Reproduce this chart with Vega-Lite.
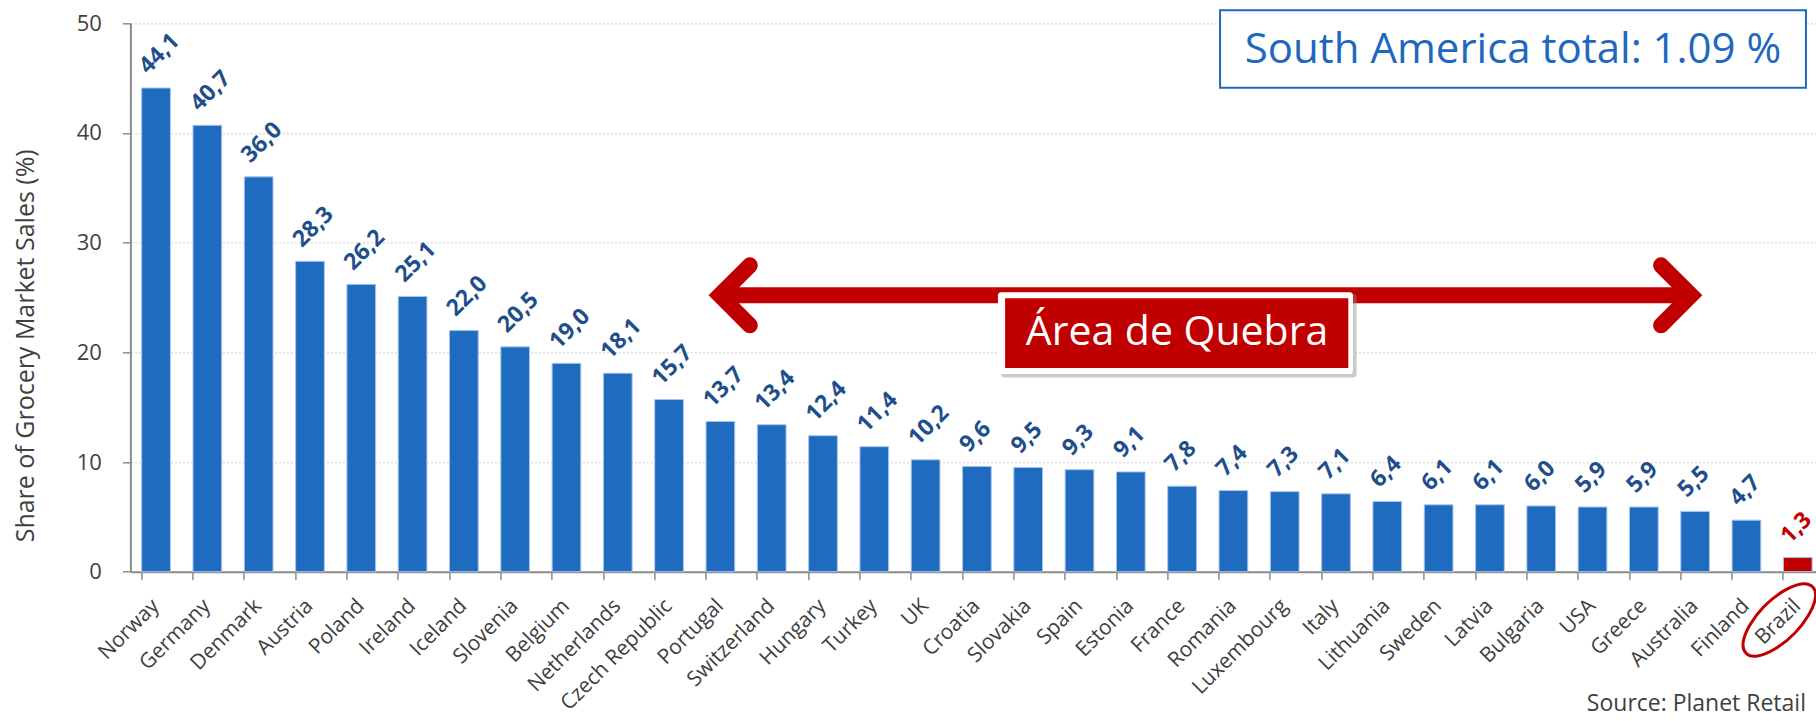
{
  "$schema": "https://vega.github.io/schema/vega-lite/v6.json",
  "width": 1686,
  "height": 548.4,
  "autosize": {"type": "none"},
  "padding": {"left": 130.4, "top": 23.3, "right": 0, "bottom": 149.3},
  "background": "white",
  "config": {
    "font": "Open Sans",
    "view": {"stroke": null},
    "locale": {"number": {"decimal": ",", "thousands": ".", "grouping": [3], "currency": ["", ""]}},
    "axisX": {
      "bandPosition": 0,
      "labelAngle": -45,
      "labelAlign": "right",
      "labelBaseline": "top",
      "labelOffset": -8,
      "labelPadding": 15,
      "labelFontSize": 21,
      "labelColor": "#404040",
      "domainColor": "#8c8c8c",
      "domainWidth": 2,
      "tickColor": "#8c8c8c",
      "tickWidth": 1.5,
      "tickSize": 8,
      "grid": false
    },
    "axisY": {
      "titleFontSize": 25,
      "titleFontWeight": "normal",
      "titleColor": "#404040",
      "titleX": -105,
      "titleY": 322,
      "titleBaseline": "middle",
      "titleAngle": 270,
      "labelFontSize": 22,
      "labelColor": "#404040",
      "labelPadding": 21,
      "domainColor": "#8c8c8c",
      "domainWidth": 2,
      "tickColor": "#8c8c8c",
      "tickWidth": 1.5,
      "tickSize": 8,
      "grid": true,
      "gridColor": "#d0d0d0",
      "gridDash": [2, 2],
      "gridWidth": 1
    }
  },
  "datasets": {
    "bars": [
      {"country": "Norway", "v": 44.1},
      {"country": "Germany", "v": 40.7},
      {"country": "Denmark", "v": 36.0},
      {"country": "Austria", "v": 28.3},
      {"country": "Poland", "v": 26.2},
      {"country": "Ireland", "v": 25.1},
      {"country": "Iceland", "v": 22.0},
      {"country": "Slovenia", "v": 20.5},
      {"country": "Belgium", "v": 19.0},
      {"country": "Netherlands", "v": 18.1},
      {"country": "Czech Republic", "v": 15.7},
      {"country": "Portugal", "v": 13.7},
      {"country": "Switzerland", "v": 13.4},
      {"country": "Hungary", "v": 12.4},
      {"country": "Turkey", "v": 11.4},
      {"country": "UK", "v": 10.2},
      {"country": "Croatia", "v": 9.6},
      {"country": "Slovakia", "v": 9.5},
      {"country": "Spain", "v": 9.3},
      {"country": "Estonia", "v": 9.1},
      {"country": "France", "v": 7.8},
      {"country": "Romania", "v": 7.4},
      {"country": "Luxembourg", "v": 7.3},
      {"country": "Italy", "v": 7.1},
      {"country": "Lithuania", "v": 6.4},
      {"country": "Sweden", "v": 6.1},
      {"country": "Latvia", "v": 6.1},
      {"country": "Bulgaria", "v": 6.0},
      {"country": "USA", "v": 5.9},
      {"country": "Greece", "v": 5.9},
      {"country": "Australia", "v": 5.5},
      {"country": "Finland", "v": 4.7},
      {"country": "Brazil", "v": 1.3}
    ]
  },
  "layer": [
    {
      "data": {"name": "bars"},
      "mark": {"type": "bar", "stroke": "#a9c6ea", "strokeWidth": 1},
      "encoding": {
        "x": {
          "field": "country", "type": "nominal", "sort": null, "title": null,
          "scale": {"range": [0, 1693], "paddingInner": 0.44, "paddingOuter": 0.22}
        },
        "y": {
          "field": "v", "type": "quantitative", "title": "Share of Grocery Market Sales (%)",
          "scale": {"domain": [0, 50], "nice": false},
          "axis": {"values": [0, 10, 20, 30, 40, 50]}
        },
        "color": {
          "condition": {"test": "datum.country === 'Brazil'", "value": "#C00000"},
          "value": "#1F6BBF"
        }
      }
    },
    {
      "data": {"name": "bars"},
      "mark": {"type": "text", "angle": 315, "align": "left", "baseline": "middle", "fontWeight": "bold", "fontSize": 23, "xOffset": -13, "yOffset": -18},
      "encoding": {
        "x": {
          "field": "country", "type": "nominal", "sort": null, "axis": null,
          "scale": {"range": [0, 1693], "paddingInner": 0.44, "paddingOuter": 0.22}
        },
        "y": {"field": "v", "type": "quantitative", "title": "Share of Grocery Market Sales (%)"},
        "text": {"field": "v", "type": "quantitative", "format": ".1f"},
        "color": {
          "condition": {"test": "datum.country === 'Brazil'", "value": "#C00000"},
          "value": "#1F4E8C"
        }
      }
    },
    {
      "data": {"values": [{"x": 21.24, "x2": 32.66, "y": 51.2, "y2": 44.12}]},
      "mark": {"type": "rect", "fill": "white", "stroke": "#2068BE", "strokeWidth": 2},
      "encoding": {
        "x": {"field": "x", "type": "quantitative", "scale": {"domain": [0, 33], "range": [0, 1693], "nice": false, "zero": false}, "axis": null},
        "x2": {"field": "x2"},
        "y": {"field": "y", "type": "quantitative", "title": "Share of Grocery Market Sales (%)"},
        "y2": {"field": "y2"}
      }
    },
    {
      "data": {"values": [{"x": 26.95, "y": 47.6, "t": "South America total: 1.09 %"}]},
      "mark": {"type": "text", "align": "center", "baseline": "middle", "fontSize": 42, "color": "#2068BE"},
      "encoding": {
        "x": {"field": "x", "type": "quantitative", "scale": {"domain": [0, 33], "range": [0, 1693], "nice": false, "zero": false}, "axis": null},
        "y": {"field": "y", "type": "quantitative", "title": "Share of Grocery Market Sales (%)"},
        "text": {"field": "t"}
      }
    },
    {
      "data": {"values": [{"x": 11.5, "x2": 30.41, "y": 25.2}]},
      "mark": {"type": "rule", "stroke": "#C00000", "strokeWidth": 16, "strokeCap": "butt"},
      "encoding": {
        "x": {"field": "x", "type": "quantitative", "scale": {"domain": [0, 33], "range": [0, 1693], "nice": false, "zero": false}, "axis": null},
        "x2": {"field": "x2"},
        "y": {"field": "y", "type": "quantitative", "title": "Share of Grocery Market Sales (%)"}
      }
    },
    {
      "data": {"values": [{"x": 11.49, "y": 25.2, "side": "L"}, {"x": 30.42, "y": 25.2, "side": "R"}]},
      "mark": {"type": "point", "filled": false, "opacity": 1, "stroke": "#C00000", "strokeWidth": 16, "strokeCap": "round", "strokeJoin": "miter", "size": 3600},
      "encoding": {
        "x": {"field": "x", "type": "quantitative", "scale": {"domain": [0, 33], "range": [0, 1693], "nice": false, "zero": false}, "axis": null},
        "y": {"field": "y", "type": "quantitative", "title": "Share of Grocery Market Sales (%)"},
        "shape": {"field": "side", "type": "nominal", "scale": {"domain": ["L", "R"], "range": ["M 1 -1 L 0 0 L 1 1", "M -1 -1 L 0 0 L -1 1"]}, "legend": null}
      }
    },
    {
      "data": {"values": [{"x": 16.97, "x2": 23.9, "y": 25.3, "y2": 17.7}]},
      "mark": {"type": "rect", "fill": "#8a8a8a", "opacity": 0.45, "cornerRadius": 3},
      "encoding": {
        "x": {"field": "x", "type": "quantitative", "scale": {"domain": [0, 33], "range": [0, 1693], "nice": false, "zero": false}, "axis": null},
        "x2": {"field": "x2"},
        "y": {"field": "y", "type": "quantitative", "title": "Share of Grocery Market Sales (%)"},
        "y2": {"field": "y2"}
      }
    },
    {
      "data": {"values": [{"x": 16.91, "x2": 23.83, "y": 25.49, "y2": 18.02}]},
      "mark": {"type": "rect", "fill": "white", "cornerRadius": 3},
      "encoding": {
        "x": {"field": "x", "type": "quantitative", "scale": {"domain": [0, 33], "range": [0, 1693], "nice": false, "zero": false}, "axis": null},
        "x2": {"field": "x2"},
        "y": {"field": "y", "type": "quantitative", "title": "Share of Grocery Market Sales (%)"},
        "y2": {"field": "y2"}
      }
    },
    {
      "data": {"values": [{"x": 17.05, "x2": 23.74, "y": 24.94, "y2": 18.57}]},
      "mark": {"type": "rect", "fill": "#C00000"},
      "encoding": {
        "x": {"field": "x", "type": "quantitative", "scale": {"domain": [0, 33], "range": [0, 1693], "nice": false, "zero": false}, "axis": null},
        "x2": {"field": "x2"},
        "y": {"field": "y", "type": "quantitative", "title": "Share of Grocery Market Sales (%)"},
        "y2": {"field": "y2"}
      }
    },
    {
      "data": {"values": [{"x": 20.4, "y": 21.76, "t": "Área de Quebra"}]},
      "mark": {"type": "text", "align": "center", "baseline": "middle", "fontSize": 41, "color": "white"},
      "encoding": {
        "x": {"field": "x", "type": "quantitative", "scale": {"domain": [0, 33], "range": [0, 1693], "nice": false, "zero": false}, "axis": null},
        "y": {"field": "y", "type": "quantitative", "title": "Share of Grocery Market Sales (%)"},
        "text": {"field": "t"}
      }
    },
    {
      "data": {"values": [{"x": 32.14, "y": -4.4}]},
      "mark": {"type": "point", "filled": false, "opacity": 1, "stroke": "#C00000", "strokeWidth": 3, "size": 8836, "shape": "M -0.707 0.707 A 1 0.42 -45 1 1 0.707 -0.707 A 1 0.42 -45 1 1 -0.707 0.707 Z"},
      "encoding": {
        "x": {"field": "x", "type": "quantitative", "scale": {"domain": [0, 33], "range": [0, 1693], "nice": false, "zero": false}, "axis": null},
        "y": {"field": "y", "type": "quantitative", "title": "Share of Grocery Market Sales (%)"}
      }
    },
    {
      "data": {"values": [{"x": 32.66, "y": -12.06, "t": "Source: Planet Retail"}]},
      "mark": {"type": "text", "align": "right", "baseline": "middle", "fontSize": 23, "color": "#404040"},
      "encoding": {
        "x": {"field": "x", "type": "quantitative", "scale": {"domain": [0, 33], "range": [0, 1693], "nice": false, "zero": false}, "axis": null},
        "y": {"field": "y", "type": "quantitative", "title": "Share of Grocery Market Sales (%)"},
        "text": {"field": "t"}
      }
    }
  ],
  "resolve": {"scale": {"x": "independent"}}
}
